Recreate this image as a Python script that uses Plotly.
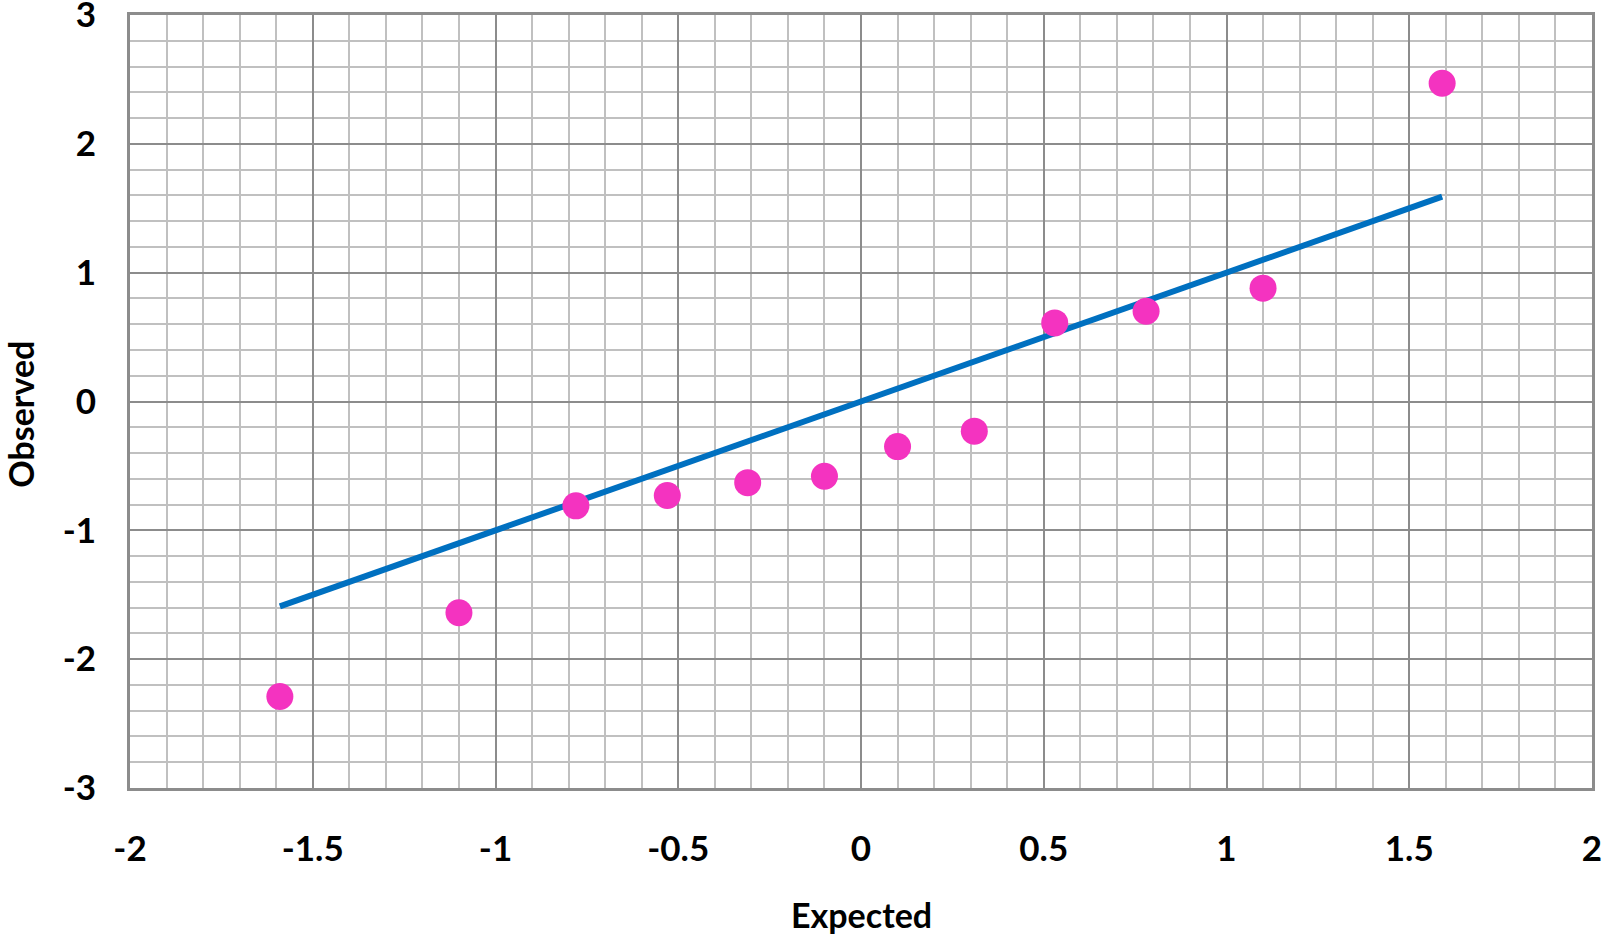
import plotly.graph_objects as go

expected = [-1.59, -1.10, -0.78, -0.53, -0.31, -0.10, 0.10, 0.31, 0.53, 0.78, 1.10, 1.59]
observed = [-2.29, -1.64, -0.81, -0.73, -0.63, -0.58, -0.35, -0.23, 0.61, 0.70, 0.88, 2.47]
line_x = [-1.59, 1.59]
line_y = [-1.59, 1.59]

x_ticks = [-2, -1.5, -1, -0.5, 0, 0.5, 1, 1.5, 2]
x_ticktext = ["-2", "-1.5", "-1", "-0.5", "0", "0.5", "1", "1.5", "2"]
y_ticks = [-3, -2, -1, 0, 1, 2, 3]
y_ticktext = ["-3", "-2", "-1", "0", "1", "2", "3"]

FONT = "Lato"
MAJOR = "#8c8c8c"
MINOR = "#c0c0c0"
FS = 34
TFS = 35

fig = go.Figure()
fig.add_trace(go.Scatter(x=line_x, y=line_y, mode="lines",
                         line=dict(color="#0070C0", width=6), showlegend=False,
                         cliponaxis=False))
fig.add_trace(go.Scatter(x=expected, y=observed, mode="markers",
                         marker=dict(color="#F433C0", size=27, line=dict(width=0)),
                         showlegend=False, cliponaxis=False))

fig.update_layout(
    width=1603, height=934,
    margin=dict(l=130, r=11, t=15, b=146, autoexpand=False),
    paper_bgcolor="white", plot_bgcolor="white",
    font=dict(family=FONT, color="black", size=FS),
    xaxis=dict(range=[-2, 2], tickvals=x_ticks, ticktext=x_ticktext,
               showgrid=True, gridcolor=MAJOR, gridwidth=2,
               minor=dict(dtick=0.1, tick0=0, showgrid=True, gridcolor=MINOR, gridwidth=2),
               showline=True, linecolor=MAJOR, linewidth=3, mirror=True,
               zeroline=False, ticks="", ticklabelstandoff=28, automargin=False,
               ticklabeloverflow="allow",
               tickfont=dict(family=FONT, size=TFS, color="black", weight="bold")),
    yaxis=dict(range=[-3, 3], tickvals=y_ticks, ticktext=y_ticktext,
               showgrid=True, gridcolor=MAJOR, gridwidth=2,
               minor=dict(dtick=0.2, tick0=0, showgrid=True, gridcolor=MINOR, gridwidth=2),
               showline=True, linecolor=MAJOR, linewidth=3, mirror=True,
               zeroline=False, ticks="", ticklabelstandoff=24, automargin=False,
               ticklabeloverflow="allow",
               tickfont=dict(family=FONT, size=TFS, color="black", weight="bold")),
    annotations=[
        dict(text="<b>Expected</b>", xref="paper", yref="paper", x=0.5, y=-0.164,
             xanchor="center", yanchor="middle", showarrow=False,
             font=dict(family=FONT, size=FS, color="black")),
        dict(text="<b>Observed</b>", xref="paper", yref="paper", x=-0.0745, y=0.483,
             xanchor="center", yanchor="middle", showarrow=False, textangle=-90,
             font=dict(family=FONT, size=FS, color="black")),
    ],
)

fig.write_html("out.html", config={"displayModeBar": False},
               post_script="document.body.style.margin='0';document.body.style.overflow='hidden';")
